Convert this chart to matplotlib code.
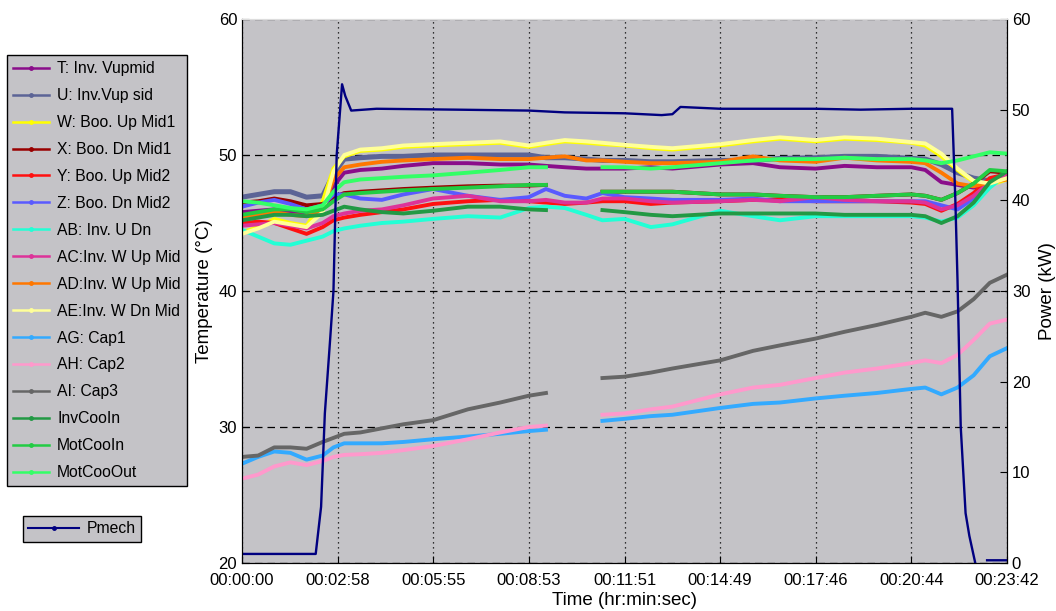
import numpy as np
import matplotlib.pyplot as plt

plt.rcParams['font.family'] = ['Liberation Sans', 'DejaVu Sans']

nan = np.nan

# time grid (s) for the temperature channels
t_sec = [0, 30, 60, 90, 120, 150, 170, 190, 220, 260, 300, 355, 420, 480, 533, 565,
         600, 640, 670, 711, 760, 800, 889, 950, 1000, 1066, 1120, 1180, 1244, 1270,
         1300, 1330, 1360, 1390, 1422]

T_vupmid = [45.8, 45.9, 46.0, 45.8, 45.6, 46.0, 47.7, 48.7, 48.9, 49.0, 49.2, 49.4, 49.4, 49.3, 49.3, 49.2,
            49.1, 49.0, 49.0, 49.0, 49.1, 49.0, 49.3, 49.4, 49.1, 49.0, 49.2, 49.1, 49.1, 48.9,
            48.0, 47.8, 47.6, 48.0, 48.5]
U_vupsid = [46.9, 47.1, 47.3, 47.3, 46.9, 47.0, 48.6, 49.7, 49.8, 49.9, 49.9, 50.0, 50.0, 50.0, 50.0, 49.8,
            49.8, 49.7, 49.6, 49.6, 49.5, 49.5, 49.6, 49.6, 49.75, 49.8, 49.9, 49.9, 49.75, 49.7,
            49.3, 48.7, 48.3, 48.1, 48.4]
W_upmid1 = [44.3, 44.7, 45.3, 45.0, 44.8, 46.6, 49.0, 49.9, 50.3, 50.4, 50.6, 50.7, 50.8, 50.9, 50.6, 50.8,
            51.0, 50.9, 50.8, 50.7, 50.5, 50.4, 50.7, 51.0, 51.2, 51.0, 51.2, 51.1, 50.9, 50.7,
            49.9, 48.9, 48.0, 47.8, 48.2]
X_dnmid1 = [46.5, 46.6, 46.8, 46.6, 46.3, 46.4, 46.9, 47.2, 47.3, 47.4, 47.5, 47.6, 47.7, 47.75, 47.75, 47.8,
            nan, nan, 47.3, 47.3, 47.3, 47.3, 47.1, 47.1, 47.0, 46.9, 46.9, 47.0, 47.1, 47.0,
            46.7, 47.2, 47.9, 48.8, 48.7]
Y_upmid2 = [45.0, 45.1, 45.0, 44.6, 44.2, 44.7, 45.2, 45.4, 45.6, 45.8, 46.0, 46.4, 46.6, 46.7, 46.6, 46.5,
            46.4, 46.5, 46.6, 46.6, 46.4, 46.5, 46.6, 46.7, 46.7, 46.6, 46.6, 46.6, 46.5, 46.4,
            45.9, 46.4, 47.2, 48.3, 48.6]
Z_dnmid2 = [46.2, 46.5, 46.7, 46.4, 46.0, 46.3, 47.1, 47.1, 46.8, 46.7, 47.1, 47.5, 47.0, 46.7, 46.9, 47.5,
            47.0, 46.8, 47.2, 46.9, 46.8, 46.7, 46.7, 46.8, 46.6, 46.6, 46.6, 46.6, 46.6, 46.6,
            46.3, 46.0, 46.8, 47.8, 48.6]
AB_udn = [44.5, 44.0, 43.5, 43.4, 43.7, 44.0, 44.4, 44.6, 44.8, 45.0, 45.1, 45.3, 45.5, 45.4, 46.1, 46.2,
          46.1, 45.6, 45.2, 45.3, 44.7, 44.9, 45.9, 45.5, 45.2, 45.5, 45.5, 45.5, 45.5, 45.4,
          45.1, 45.4, 46.3, 47.6, 48.6]
AC_wupmid = [44.8, 44.9, 45.0, 44.8, 44.6, 45.0, 45.5, 45.7, 45.9, 46.0, 46.3, 46.8, 47.0, 46.6, 46.6, 46.7,
             46.5, 46.5, 46.8, 46.8, 46.6, 46.5, 46.6, 46.7, 46.6, 46.9, 46.7, 46.6, 46.6, 46.5,
             46.0, 46.3, 47.0, 48.0, 48.6]
AD_wupmid = [45.5, 45.6, 45.8, 45.6, 45.5, 46.0, 48.2, 49.1, 49.3, 49.5, 49.6, 49.7, 49.8, 49.7, 49.7, 49.8,
             49.9, 49.6, 49.6, 49.5, 49.4, 49.4, 49.5, 49.9, 49.6, 49.5, 49.8, 49.6, 49.5, 49.4,
             48.7, 47.9, 47.7, 48.0, 48.2]
AE_wdnmid = [44.2, 44.6, 45.1, 44.9, 44.7, 45.8, 48.8, 50.0, 50.4, 50.5, 50.7, 50.8, 50.9, 51.0, 50.7, 50.9,
             51.1, 51.0, 50.9, 50.75, 50.6, 50.5, 50.8, 51.1, 51.3, 51.1, 51.3, 51.2, 50.95, 50.85,
             50.1, 49.0, 48.1, 47.9, 48.3]
AG_cap1 = [27.3, 27.8, 28.2, 28.1, 27.6, 27.9, 28.5, 28.8, 28.8, 28.8, 28.9, 29.1, 29.3, 29.5, 29.7, 29.8,
           nan, nan, 30.45, 30.6, 30.8, 30.9, 31.4, 31.7, 31.8, 32.1, 32.3, 32.5, 32.8, 32.9,
           32.4, 32.9, 33.8, 35.2, 35.8]
AH_cap2 = [26.2, 26.5, 27.1, 27.4, 27.2, 27.5, 27.8, 27.95, 28.0, 28.1, 28.3, 28.6, 29.1, 29.6, 30.0, 30.1,
           nan, nan, 30.9, 31.0, 31.3, 31.5, 32.4, 32.9, 33.1, 33.6, 34.0, 34.3, 34.7, 34.9,
           34.7, 35.3, 36.4, 37.6, 37.9]
AI_cap3 = [27.8, 27.9, 28.5, 28.5, 28.4, 28.9, 29.2, 29.5, 29.6, 29.9, 30.2, 30.5, 31.3, 31.8, 32.3, 32.5,
           nan, nan, 33.6, 33.7, 34.0, 34.3, 34.9, 35.6, 36.0, 36.5, 37.0, 37.5, 38.1, 38.4,
           38.1, 38.5, 39.4, 40.6, 41.2]
inv_cool_in = [45.2, 45.4, 45.6, 45.6, 45.5, 45.6, 45.9, 46.2, 46.0, 45.8, 45.7, 45.9, 46.2, 46.2, 46.0, 45.95,
               nan, nan, 45.95, 45.8, 45.6, 45.5, 45.7, 45.7, 45.7, 45.7, 45.6, 45.6, 45.6, 45.5,
               45.0, 45.5, 46.5, 48.0, 48.8]
mot_cool_in = [45.6, 45.8, 46.0, 46.0, 45.8, 46.0, 46.6, 47.1, 47.2, 47.3, 47.4, 47.5, 47.6, 47.7, 47.8, 47.8,
               nan, nan, 47.3, 47.3, 47.3, 47.3, 47.1, 47.1, 47.0, 46.9, 46.9, 47.0, 47.1, 47.0,
               46.7, 47.2, 47.9, 48.9, 48.8]
mot_coo_out = [46.6, 46.5, 46.3, 46.1, 46.0, 46.3, 47.3, 48.0, 48.2, 48.3, 48.4, 48.5, 48.7, 48.9, 49.1, 49.1,
               nan, nan, 49.1, 49.1, 49.0, 49.1, 49.4, 49.6, 49.7, 49.7, 49.8, 49.7, 49.7, 49.6,
               49.4, 49.6, 49.9, 50.2, 50.1]

# mechanical power (kW), own time grid
t_pmech = [0, 137, 147, 154, 164, 170, 176, 186, 192, 203, 250, 400, 533, 600, 711, 780,
           800, 815, 889, 1066, 1150, 1244, 1320, 1326, 1330, 1336, 1345, 1352, 1363, 1370,
           1385, 1422]
pmech = [1.0, 1.0, 6.2, 16.5, 24.8, 30.0, 45.0, 52.8, 51.5, 49.9, 50.1, 50.0, 49.9, 49.7, 49.6, 49.4,
         49.5, 50.3, 50.1, 50.1, 50.0, 50.1, 50.1, 40.0, 31.2, 15.0, 5.5, 3.0, 0.0, nan,
         0.3, 0.3]

series = [
    ('T: Inv. Vupmid', T_vupmid, '#8a0d8a'),
    ('U: Inv.Vup sid', U_vupsid, '#5c6496'),
    ('W: Boo. Up Mid1', W_upmid1, '#ffff00'),
    ('X: Boo. Dn Mid1', X_dnmid1, '#990000'),
    ('Y: Boo. Up Mid2', Y_upmid2, '#ff1010'),
    ('Z: Boo. Dn Mid2', Z_dnmid2, '#5a5aff'),
    ('AB: Inv. U Dn', AB_udn, '#22ffd5'),
    ('AC:Inv. W Up Mid', AC_wupmid, '#dd3399'),
    ('AD:Inv. W Up Mid', AD_wupmid, '#ff7700'),
    ('AE:Inv. W Dn Mid', AE_wdnmid, '#ffff99'),
    ('AG: Cap1', AG_cap1, '#33aaff'),
    ('AH: Cap2', AH_cap2, '#ff99cc'),
    ('AI: Cap3', AI_cap3, '#666666'),
    ('InvCooIn', inv_cool_in, '#229944'),
    ('MotCooIn', mot_cool_in, '#22cc44'),
    ('MotCooOut', mot_coo_out, '#33ff66'),
]

tick_labels = ['00:00:00', '00:02:58', '00:05:55', '00:08:53', '00:11:51',
               '00:14:49', '00:17:46', '00:20:44', '00:23:42']

bg = '#c4c3c7'
fig = plt.figure(figsize=(10.56, 6.11), dpi=100)
ax = fig.add_axes([242 / 1056, 48 / 611, 765 / 1056, 544 / 611])
ax.set_facecolor(bg)

for label, vals, col in series:
    lw = 3.6 if label.startswith('U:') else 2.8
    ax.plot(t_sec, vals, color=col, lw=lw, label=label)

ax.set_xlim(0, 1422)
ax.set_ylim(20, 60)
ax.set_yticks([20, 30, 40, 50, 60])
ax.set_xticks(np.linspace(0, 1422, 9))
ax.set_xticklabels(tick_labels)
ax.tick_params(direction='in', labelsize=12, length=5)
ax.tick_params(axis='x', pad=7)
ax.set_xlabel('Time (hr:min:sec)', fontsize=13.5, labelpad=3)
ax.set_ylabel('Temperature (°C)', fontsize=13.5, labelpad=4)
ax.grid(axis='y', color='black', linestyle=(0, (6, 4)), lw=0.9)
ax.grid(axis='x', color='black', linestyle=(0, (1, 3)), lw=0.9)
ax.spines['top'].set_color('#dddddd')

ax2 = ax.twinx()
ax2.plot(t_pmech, pmech, color='#000080', lw=1.7, label='Pmech')
ax2.set_ylim(0, 60)
ax2.set_yticks(range(0, 61, 10))
ax2.tick_params(direction='in', labelsize=12, length=5)
ax2.set_ylabel('Power (kW)', fontsize=13.5, labelpad=6)
ax2.spines['top'].set_color('#dddddd')

leg = fig.legend(*ax.get_legend_handles_labels(), loc='upper left',
                 bbox_to_anchor=(7 / 1056, 1 - 55 / 611), fontsize=11.3,
                 facecolor=bg, edgecolor='black', framealpha=1, fancybox=False,
                 handlelength=2.3, handletextpad=0.5, labelspacing=0.76,
                 borderpad=0.4, borderaxespad=0)
for ln in leg.get_lines():
    ln.set_linewidth(1.8)
    ln.set_marker('.')
    ln.set_markersize(5)

leg2 = fig.legend(*ax2.get_legend_handles_labels(), loc='upper left',
                  bbox_to_anchor=(23 / 1056, 1 - 516 / 611), fontsize=11.3,
                  facecolor=bg, edgecolor='black', framealpha=1, fancybox=False,
                  handlelength=3.2, handletextpad=0.5, borderpad=0.35, borderaxespad=0)
for ln in leg2.get_lines():
    ln.set_linewidth(1.5)
    ln.set_marker('.')
    ln.set_markersize(5)

fig.savefig('out.png', dpi=100)
